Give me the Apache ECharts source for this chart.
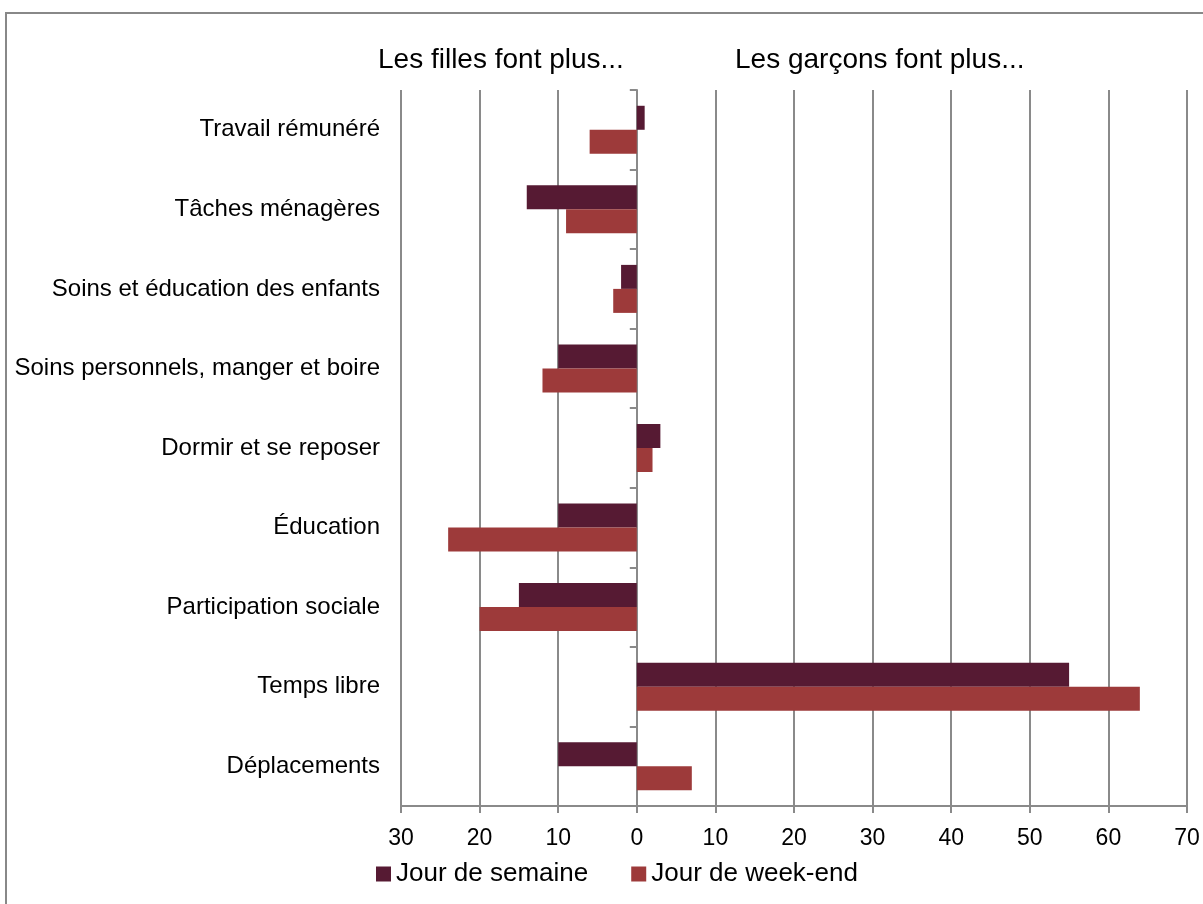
<!DOCTYPE html>
<html>
<head>
<meta charset="utf-8">
<script src="https://cdn.jsdelivr.net/npm/echarts@6/dist/echarts.min.js"></script>
<style>html,body{margin:0;padding:0;background:#fff}#c{width:1203px;height:904px}</style>
</head>
<body>
<div id="c"></div>
<script>
const categories = ["Travail rémunéré", "Tâches ménagères", "Soins et éducation des enfants", "Soins personnels, manger et boire", "Dormir et se reposer", "Éducation", "Participation sociale", "Temps libre", "Déplacements"];
const weekday = [1, -14, -2, -10, 3, -10, -15, 55, -10];
const weekend = [-6, -9, -3, -12, 2, -24, -20, 64, 7];
const seriesNames = ["Jour de semaine", "Jour de week-end"];
const headerLeft = "Les filles font plus...";
const headerRight = "Les garçons font plus...";
const xMin = -30, xMax = 70;

const chart = echarts.init(document.getElementById('c'), null, {renderer: 'canvas'});
const font = 'Liberation Sans, Arial, sans-serif';
const gridColor = '#8a8a8a';
const gridLeft = 401, gridRight = 16;
const plotWidth = 1203 - gridLeft - gridRight;
const zeroOffset = -plotWidth * (xMax - 0) / (xMax - xMin);
chart.setOption({
  animation: false,
  backgroundColor: '#fff',
  textStyle: {fontFamily: font},
  grid: {left: gridLeft, right: gridRight, top: 90, bottom: 98, containLabel: false},
  graphic: [
    {type: 'rect', shape: {x: 6, y: 13, width: 1300, height: 1000}, style: {fill: 'none', stroke: '#888', lineWidth: 2}, silent: true, z: -1},
    {type: 'text', left: 378, top: 46, style: {text: headerLeft, fontSize: 28, fontFamily: font, fill: '#000'}},
    {type: 'text', left: 735, top: 46, style: {text: headerRight, fontSize: 28, fontFamily: font, fill: '#000'}}
  ],
  legend: {
    left: 371, top: 856, itemWidth: 15, itemHeight: 15, itemGap: 43, icon: 'rect',
    textStyle: {fontSize: 26, color: '#000', fontFamily: font},
    data: seriesNames
  },
  xAxis: {
    type: 'value', min: xMin, max: xMax, interval: 10,
    axisLine: {show: true, onZero: false, lineStyle: {color: gridColor, width: 2}},
    axisTick: {show: true, length: 7, lineStyle: {color: gridColor, width: 2}},
    axisLabel: {fontSize: 23, color: '#000', margin: 21, formatter: v => String(Math.abs(v)), fontFamily: font},
    splitLine: {show: true, lineStyle: {color: gridColor, width: 2}}
  },
  yAxis: [
    {
      type: 'category', data: categories, inverse: true, position: 'left',
      axisLine: {show: false, onZero: false}, axisTick: {show: false},
      axisLabel: {fontSize: 24, color: '#000', margin: 21, fontFamily: font}
    },
    {
      type: 'category', data: categories, inverse: true, position: 'right', offset: zeroOffset,
      axisLine: {show: true, onZero: false, lineStyle: {color: gridColor, width: 2}},
      axisTick: {show: true, inside: true, length: 7, lineStyle: {color: gridColor, width: 2}},
      axisLabel: {show: false}
    }
  ],
  series: [
    {name: seriesNames[0], type: 'bar', data: weekday, barWidth: 24, barGap: '0%', itemStyle: {color: '#561a33'}, yAxisIndex: 0},
    {name: seriesNames[1], type: 'bar', data: weekend, barWidth: 24, barGap: '0%', itemStyle: {color: '#9d3a3a'}, yAxisIndex: 0}
  ]
});
</script>
</body>
</html>
